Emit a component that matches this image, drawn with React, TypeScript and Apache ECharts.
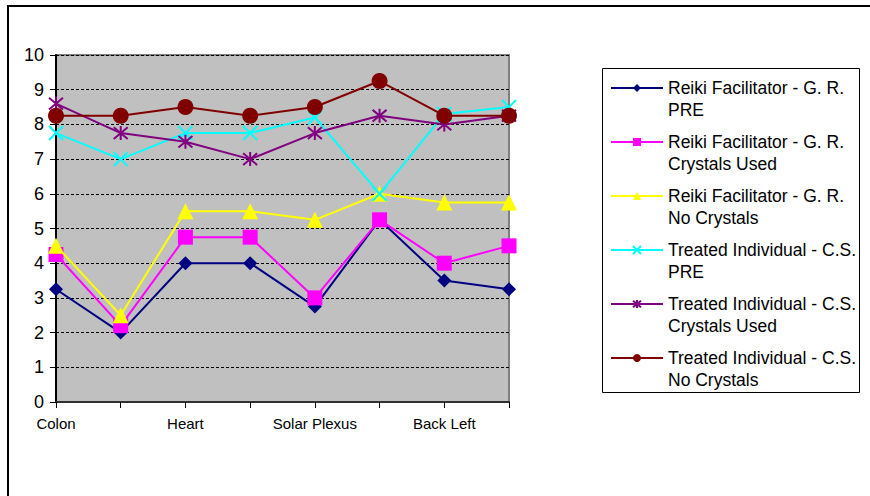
import React, { useEffect, useRef } from "react";
import * as echarts from "echarts";

const categories = ["Colon", "Sacral", "Heart", "Throat", "Solar Plexus", "Third Eye", "Back Left", "Back Right"];
const seriesNames = [
  "Reiki Facilitator - G. R.\nPRE",
  "Reiki Facilitator - G. R.\nCrystals Used",
  "Reiki Facilitator - G. R.\nNo Crystals",
  "Treated Individual - C.S.\nPRE",
  "Treated Individual - C.S.\nCrystals Used",
  "Treated Individual - C.S.\nNo Crystals",
];
const grPre = [3.25, 2, 4, 4, 2.75, 5.25, 3.5, 3.25];
const grCrystals = [4.25, 2.2, 4.75, 4.75, 3, 5.25, 4, 4.5];
const grNoCrystals = [4.5, 2.5, 5.5, 5.5, 5.25, 6, 5.75, 5.75];
const csPre = [7.75, 7, 7.75, 7.75, 8.2, 6, 8.3, 8.5];
const csCrystals = [8.6, 7.75, 7.5, 7, 7.75, 8.25, 8, 8.25];
const csNoCrystals = [8.25, 8.25, 8.5, 8.25, 8.5, 9.25, 8.25, 8.25];
const yTicks = [0, 1, 2, 3, 4, 5, 6, 7, 8, 9, 10];

const FONT = "'Liberation Sans', Arial, sans-serif";

export default function App() {
  const ref = useRef<HTMLDivElement>(null);
  useEffect(() => {
    if (!ref.current) return;
    const chart = echarts.init(ref.current, null, { renderer: "svg" });
    const data = [grPre, grCrystals, grNoCrystals, csPre, csCrystals, csNoCrystals];
    const colors = ["#000080", "#FF00FF", "#FFFF00", "#00FFFF", "#800080", "#800000"];
    const symbols = [
      "diamond",
      "rect",
      "triangle",
      "path://M0,0L10,10M10,0L0,10",
      "path://M0,0L10,10M10,0L0,10M5,-1L5,11",
      "circle",
    ];
    const sizes = [14, 15, 16, 14, 14, 16];
    const stroked = [false, false, false, true, true, false];
    chart.setOption({
      animation: false,
      backgroundColor: "#ffffff",
      textStyle: { fontFamily: FONT },
      grid: {
        left: 56,
        right: 361,
        top: 55,
        bottom: 94,
        show: true,
        backgroundColor: "#C0C0C0",
        borderColor: "#808080",
        borderWidth: 2,
      },
      xAxis: {
        type: "category",
        data: categories,
        boundaryGap: false,
        axisLine: { lineStyle: { color: "#303030", width: 2 } },
        axisTick: { show: true, interval: 0, length: 6, lineStyle: { color: "#000", width: 1 } },
        axisLabel: { interval: 1, color: "#000", fontSize: 15, fontFamily: FONT, margin: 14 },
        splitLine: { show: false },
      },
      yAxis: {
        type: "value",
        min: yTicks[0],
        max: yTicks[yTicks.length - 1],
        interval: 1,
        axisLine: { show: true, lineStyle: { color: "#000", width: 2 } },
        axisTick: { show: true, length: 6, lineStyle: { color: "#000", width: 1 } },
        axisLabel: { color: "#000", fontSize: 18, fontFamily: FONT, margin: 12 },
        splitLine: { show: true, lineStyle: { color: "#000", type: [3, 2], width: 1 } },
      },
      legend: {
        orient: "vertical",
        left: 610,
        top: 55,
        padding: 0,
        itemWidth: 52,
        itemHeight: 10,
        itemGap: -12,
        data: seriesNames,
        formatter: (name: string) => "\n" + name,
        textStyle: {
          color: "#000",
          fontSize: 17.5,
          lineHeight: 22,
          fontFamily: FONT,
        },
      },
      graphic: [
        {
          type: "rect",
          shape: { x: 8, y: 6, width: 900, height: 520 },
          style: { fill: "none", stroke: "#000", lineWidth: 2 },
          silent: true,
        },
        {
          type: "rect",
          shape: { x: 602.5, y: 68.5, width: 257, height: 324 },
          style: { fill: "none", stroke: "#000", lineWidth: 1 },
          silent: true,
        },
      ],
      series: data.map((d, i) => ({
        name: seriesNames[i],
        type: "line",
        data: d,
        symbol: symbols[i],
        symbolSize: sizes[i],
        showAllSymbol: true,
        lineStyle: { color: colors[i], width: 2 },
        itemStyle: stroked[i]
          ? { color: colors[i], borderColor: colors[i], borderWidth: 2 }
          : { color: colors[i], borderWidth: 0 },
        z: 2 + i,
      })),
    });
    return () => chart.dispose();
  }, []);
  return (
    <div
      ref={ref}
      style={{ position: "absolute", left: 0, top: 0, width: 870, height: 496 }}
    />
  );
}
